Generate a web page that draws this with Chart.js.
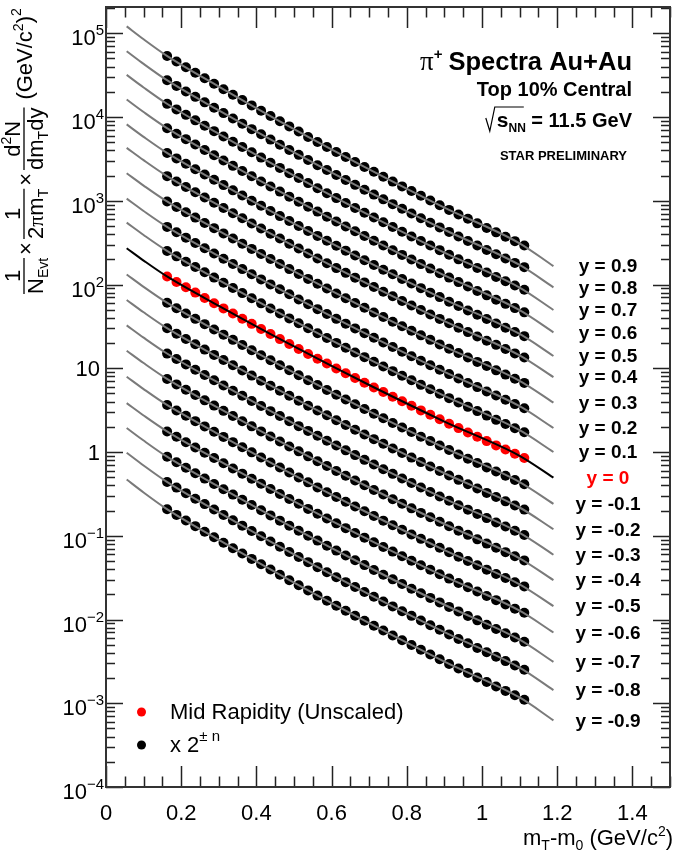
<!DOCTYPE html>
<html>
<head>
<meta charset="utf-8">
<script src="https://cdn.jsdelivr.net/npm/chart.js@4.4.0/dist/chart.umd.min.js"></script>
<style>
	html, body { margin: 0; padding: 0; background: #fff; }
	#wrap { width: 675px; height: 854px; }
</style>
</head>
<body>
<div id="wrap"><canvas id="spectraChart" width="675" height="854"></canvas></div>
<script>

// m_T - m_0 bin centres (GeV/c^2)
var mtBins = [0.1625, 0.1875, 0.2125, 0.2375, 0.2625, 0.2875, 0.3125, 0.3375, 0.3625, 0.3875,
	0.4125, 0.4375, 0.4625, 0.4875, 0.5125, 0.5375, 0.5625, 0.5875, 0.6125, 0.6375,
	0.6625, 0.6875, 0.7125, 0.7375, 0.7625, 0.7875, 0.8125, 0.8375, 0.8625, 0.8875,
	0.9125, 0.9375, 0.9625, 0.9875, 1.0125, 1.0375, 1.0625, 1.0875, 1.1125];

// unscaled yields for each rapidity slice
var yield_p09 = [104.7, 89.7, 76.9, 66.0, 56.7, 48.7, 41.9, 36.1, 31.1, 26.9, 23.2, 20.1, 17.4, 15.1, 13.1, 11.3, 9.85, 8.57, 7.46, 6.50, 5.67, 4.95, 4.33, 3.78, 3.31, 2.90, 2.55, 2.24, 1.97, 1.73, 1.52, 1.34, 1.19, 1.05, 0.926, 0.820, 0.726, 0.644, 0.571];
var yield_p08 = [107.2, 92.0, 79.0, 68.0, 58.5, 50.4, 43.5, 37.5, 32.4, 28.0, 24.3, 21.0, 18.2, 15.8, 13.8, 12.0, 10.4, 9.09, 7.93, 6.92, 6.05, 5.29, 4.63, 4.06, 3.56, 3.13, 2.75, 2.42, 2.13, 1.88, 1.66, 1.46, 1.29, 1.14, 1.01, 0.899, 0.798, 0.708, 0.630];
var yield_p07 = [112.2, 96.4, 82.9, 71.3, 61.5, 53.0, 45.7, 39.5, 34.2, 29.6, 25.6, 22.2, 19.3, 16.7, 14.6, 12.7, 11.0, 9.63, 8.41, 7.35, 6.42, 5.62, 4.93, 4.32, 3.79, 3.33, 2.93, 2.58, 2.28, 2.01, 1.77, 1.56, 1.38, 1.23, 1.09, 0.963, 0.855, 0.760, 0.676];
var yield_p06 = [114.8, 98.8, 85.1, 73.3, 63.2, 54.6, 47.2, 40.8, 35.4, 30.6, 26.6, 23.1, 20.1, 17.5, 15.2, 13.3, 11.6, 10.1, 8.82, 7.72, 6.76, 5.93, 5.20, 4.56, 4.01, 3.53, 3.11, 2.74, 2.42, 2.13, 1.89, 1.67, 1.48, 1.31, 1.16, 1.03, 0.918, 0.817, 0.727];
var yield_p05 = [116.4, 100.2, 86.4, 74.5, 64.3, 55.6, 48.1, 41.6, 36.1, 31.3, 27.2, 23.6, 20.5, 17.9, 15.6, 13.6, 11.9, 10.4, 9.06, 7.93, 6.95, 6.10, 5.35, 4.70, 4.14, 3.64, 3.21, 2.83, 2.50, 2.21, 1.95, 1.73, 1.53, 1.36, 1.21, 1.07, 0.953, 0.848, 0.756];
var yield_p04 = [123.0, 106.0, 91.5, 79.1, 68.4, 59.1, 51.2, 44.4, 38.6, 33.5, 29.1, 25.3, 22.1, 19.2, 16.8, 14.7, 12.8, 11.2, 9.82, 8.61, 7.55, 6.63, 5.83, 5.13, 4.52, 3.98, 3.51, 3.10, 2.74, 2.43, 2.15, 1.90, 1.69, 1.50, 1.33, 1.19, 1.06, 0.941, 0.840];
var yield_p03 = [122.5, 105.6, 91.1, 78.7, 68.0, 58.9, 51.0, 44.2, 38.4, 33.3, 29.0, 25.2, 22.0, 19.1, 16.7, 14.6, 12.8, 11.2, 9.78, 8.57, 7.52, 6.60, 5.80, 5.11, 4.50, 3.96, 3.50, 3.09, 2.73, 2.41, 2.14, 1.90, 1.68, 1.49, 1.33, 1.18, 1.05, 0.937, 0.836];
var yield_p02 = [121.9, 105.1, 90.7, 78.3, 67.7, 58.6, 50.8, 44.0, 38.2, 33.2, 28.8, 25.1, 21.9, 19.1, 16.6, 14.5, 12.7, 11.1, 9.73, 8.53, 7.48, 6.57, 5.78, 5.08, 4.48, 3.95, 3.48, 3.07, 2.72, 2.40, 2.13, 1.89, 1.67, 1.49, 1.32, 1.18, 1.05, 0.933, 0.832];
var yield_p01 = [125.9, 108.5, 93.7, 80.9, 70.0, 60.5, 52.4, 45.5, 39.5, 34.3, 29.8, 25.9, 22.6, 19.7, 17.2, 15.0, 13.1, 11.5, 10.05, 8.81, 7.73, 6.79, 5.97, 5.25, 4.62, 4.07, 3.60, 3.17, 2.81, 2.48, 2.20, 1.95, 1.73, 1.54, 1.36, 1.21, 1.08, 0.963, 0.859];
var yield_00  = [124.6, 107.4, 92.7, 80.1, 69.2, 59.9, 51.9, 45.0, 39.0, 33.9, 29.5, 25.7, 22.3, 19.5, 17.0, 14.8, 13.0, 11.4, 9.94, 8.72, 7.65, 6.72, 5.90, 5.20, 4.58, 4.03, 3.56, 3.14, 2.78, 2.46, 2.18, 1.93, 1.71, 1.52, 1.35, 1.20, 1.07, 0.953, 0.850];
var yield_m01 = [121.1, 104.4, 90.1, 77.8, 67.3, 58.2, 50.4, 43.7, 37.9, 32.9, 28.6, 24.9, 21.7, 18.9, 16.5, 14.4, 12.6, 11.0, 9.66, 8.47, 7.43, 6.53, 5.74, 5.05, 4.45, 3.92, 3.46, 3.05, 2.70, 2.39, 2.11, 1.87, 1.66, 1.48, 1.31, 1.17, 1.04, 0.926, 0.826];
var yield_m02 = [120.2, 103.6, 89.4, 77.3, 66.8, 57.8, 50.1, 43.4, 37.7, 32.7, 28.4, 24.7, 21.6, 18.8, 16.4, 14.3, 12.5, 11.0, 9.60, 8.41, 7.38, 6.48, 5.70, 5.01, 4.41, 3.89, 3.43, 3.03, 2.68, 2.37, 2.10, 1.86, 1.65, 1.47, 1.30, 1.16, 1.03, 0.920, 0.821];
var yield_m03 = [119.7, 103.2, 89.0, 76.9, 66.5, 57.5, 49.8, 43.2, 37.5, 32.6, 28.3, 24.6, 21.5, 18.7, 16.3, 14.3, 12.5, 10.9, 9.55, 8.37, 7.35, 6.45, 5.67, 4.99, 4.39, 3.87, 3.42, 3.02, 2.67, 2.36, 2.09, 1.85, 1.64, 1.46, 1.30, 1.15, 1.03, 0.916, 0.817];
var yield_m04 = [119.1, 102.7, 88.6, 76.6, 66.2, 57.3, 49.6, 43.0, 37.3, 32.4, 28.2, 24.5, 21.4, 18.6, 16.3, 14.2, 12.4, 10.9, 9.51, 8.34, 7.31, 6.42, 5.64, 4.97, 4.37, 3.86, 3.40, 3.00, 2.66, 2.35, 2.08, 1.84, 1.64, 1.45, 1.29, 1.15, 1.02, 0.912, 0.813];
var yield_m05 = [116.4, 100.4, 86.6, 74.8, 64.7, 56.0, 48.5, 42.0, 36.5, 31.7, 27.5, 24.0, 20.9, 18.2, 15.9, 13.9, 12.1, 10.6, 9.29, 8.15, 7.15, 6.28, 5.52, 4.85, 4.27, 3.77, 3.32, 2.94, 2.60, 2.30, 2.03, 1.80, 1.60, 1.42, 1.26, 1.12, 1.00, 0.891, 0.795];
var yield_m06 = [112.7, 97.2, 83.9, 72.4, 62.6, 54.2, 46.9, 40.7, 35.3, 30.7, 26.7, 23.2, 20.2, 17.6, 15.4, 13.4, 11.7, 10.3, 9.00, 7.89, 6.92, 6.08, 5.34, 4.70, 4.14, 3.65, 3.22, 2.84, 2.51, 2.22, 1.97, 1.75, 1.55, 1.38, 1.22, 1.09, 0.968, 0.863, 0.769];
var yield_m07 = [112.2, 96.4, 83.0, 71.5, 61.6, 53.2, 45.9, 39.7, 34.4, 29.8, 25.8, 22.4, 19.4, 16.9, 14.7, 12.8, 11.2, 9.75, 8.51, 7.44, 6.52, 5.71, 5.00, 4.39, 3.86, 3.39, 2.98, 2.63, 2.32, 2.05, 1.81, 1.60, 1.41, 1.25, 1.11, 0.986, 0.876, 0.779, 0.693];
var yield_m08 = [112.2, 96.2, 82.6, 71.0, 61.1, 52.6, 45.3, 39.1, 33.8, 29.2, 25.2, 21.9, 18.9, 16.4, 14.3, 12.4, 10.8, 9.40, 8.20, 7.15, 6.25, 5.46, 4.78, 4.19, 3.67, 3.22, 2.83, 2.49, 2.19, 1.93, 1.70, 1.50, 1.33, 1.17, 1.04, 0.920, 0.816, 0.724, 0.643];
var yield_m09 = [106.2, 90.9, 77.8, 66.7, 57.3, 49.2, 42.3, 36.4, 31.4, 27.1, 23.4, 20.2, 17.5, 15.1, 13.1, 11.4, 9.88, 8.58, 7.47, 6.50, 5.67, 4.95, 4.32, 3.78, 3.30, 2.89, 2.54, 2.23, 1.96, 1.72, 1.51, 1.33, 1.18, 1.04, 0.918, 0.812, 0.719, 0.637, 0.565];

// fit curves, sampled at fitMt (unscaled)
var fitMt = [0.055, 0.1, 0.16, 0.3, 0.5, 0.7, 0.9, 1.1, 1.19];
var fit_p09 = [235.9, 165.6, 106.5, 45.2, 14.0, 4.64, 1.62, 0.607, 0.324];
var fit_p08 = [238.6, 168.4, 109.0, 46.8, 14.8, 4.96, 1.76, 0.669, 0.361];
var fit_p07 = [248.9, 176.0, 114.1, 49.2, 15.6, 5.27, 1.88, 0.718, 0.388];
var fit_p06 = [252.7, 179.2, 116.8, 50.7, 16.3, 5.56, 2.01, 0.772, 0.420];
var fit_p05 = [255.2, 181.3, 118.4, 51.6, 16.7, 5.72, 2.08, 0.802, 0.438];
var fit_p04 = [267.6, 190.8, 125.1, 55.0, 18.0, 6.23, 2.28, 0.890, 0.489];
var fit_p03 = [266.4, 189.9, 124.5, 54.8, 17.9, 6.20, 2.27, 0.886, 0.486];
var fit_p02 = [265.2, 189.0, 123.9, 54.5, 17.8, 6.17, 2.26, 0.882, 0.484];
var fit_p01 = [273.8, 195.2, 128.0, 56.3, 18.4, 6.38, 2.34, 0.911, 0.500];
var fit_00  = [271.0, 193.2, 126.6, 55.7, 18.2, 6.31, 2.31, 0.902, 0.495];
var fit_m01 = [263.4, 187.7, 123.1, 54.1, 17.7, 6.13, 2.25, 0.876, 0.481];
var fit_m02 = [261.6, 186.4, 122.2, 53.8, 17.6, 6.09, 2.23, 0.870, 0.478];
var fit_m03 = [260.4, 185.6, 121.7, 53.5, 17.5, 6.06, 2.22, 0.866, 0.475];
var fit_m04 = [259.2, 184.7, 121.1, 53.3, 17.4, 6.03, 2.21, 0.862, 0.473];
var fit_m05 = [253.3, 180.5, 118.3, 52.1, 17.0, 5.90, 2.16, 0.842, 0.462];
var fit_m06 = [245.3, 174.8, 114.6, 50.4, 16.5, 5.71, 2.09, 0.816, 0.448];
var fit_m07 = [248.0, 175.5, 114.1, 49.4, 15.8, 5.35, 1.92, 0.736, 0.399];
var fit_m08 = [250.8, 176.7, 114.1, 48.8, 15.3, 5.12, 1.81, 0.683, 0.367];
var fit_m09 = [240.1, 168.3, 108.0, 45.6, 14.1, 4.63, 1.61, 0.600, 0.320];

var rapidityLabels = ['y = 0.9', 'y = 0.8', 'y = 0.7', 'y = 0.6', 'y = 0.5', 'y = 0.4', 'y = 0.3', 'y = 0.2', 'y = 0.1', 'y = 0',
	'y = -0.1', 'y = -0.2', 'y = -0.3', 'y = -0.4', 'y = -0.5', 'y = -0.6', 'y = -0.7', 'y = -0.8', 'y = -0.9'];
// each slice is drawn x 2^n
var scalePower = [9, 8, 7, 6, 5, 4, 3, 2, 1, 0, -1, -2, -3, -4, -5, -6, -7, -8, -9];
var spectra = [yield_p09, yield_p08, yield_p07, yield_p06, yield_p05, yield_p04, yield_p03, yield_p02, yield_p01, yield_00,
	yield_m01, yield_m02, yield_m03, yield_m04, yield_m05, yield_m06, yield_m07, yield_m08, yield_m09];
var fits = [fit_p09, fit_p08, fit_p07, fit_p06, fit_p05, fit_p04, fit_p03, fit_p02, fit_p01, fit_00,
	fit_m01, fit_m02, fit_m03, fit_m04, fit_m05, fit_m06, fit_m07, fit_m08, fit_m09];

var xTicks = [0, 0.2, 0.4, 0.6, 0.8, 1, 1.2, 1.4];
var xTickLabels = ['0', '0.2', '0.4', '0.6', '0.8', '1', '1.2', '1.4'];
var yTicks = [1e-4, 1e-3, 1e-2, 1e-1, 1, 10, 1e2, 1e3, 1e4, 1e5];
var yTickLabels = [['10', '\u22124'], ['10', '\u22123'], ['10', '\u22122'], ['10', '\u22121'], ['1', ''], ['10', ''],
	['10', '2'], ['10', '3'], ['10', '4'], ['10', '5']];

var SANS = '"Liberation Sans", Arial, Helvetica, sans-serif';
var SERIF = '"Liberation Serif", "Times New Roman", serif';

function font(p){
	return (p.bold ? 'bold ' : '') + p.size + 'px ' + (p.serif ? SERIF : SANS);
}

// draw a row of text pieces (sub/superscripts via dy)
function drawRich(ctx, parts, x, y, align){
	var w = richWidth(ctx, parts);
	var cx = x;
	if (align === 'right') cx = x - w;
	if (align === 'center') cx = x - w / 2;
	parts.forEach(function(p){
		ctx.font = font(p);
		ctx.fillText(p.t, cx, y + (p.dy || 0));
		cx += ctx.measureText(p.t).width + (p.gap || 0);
	});
	return w;
}

function richWidth(ctx, parts){
	var w = 0;
	parts.forEach(function(p){ ctx.font = font(p); w += ctx.measureText(p.t).width + (p.gap || 0); });
	return w;
}

function drawYTitle(ctx){
	ctx.save();
	ctx.translate(24, 298);
	ctx.rotate(-Math.PI / 2);
	ctx.fillStyle = '#000';
	ctx.strokeStyle = '#000';
	ctx.lineWidth = 1.3;
	ctx.textBaseline = 'alphabetic';

	// 1 / N_Evt
	var den1 = [{t: 'N', size: 22}, {t: 'Evt', size: 14, dy: 5}];
	var w1 = richWidth(ctx, den1);
	var u = 4;
	drawRich(ctx, [{t: '1', size: 22}], u + w1 / 2, -4, 'center');
	ctx.beginPath(); ctx.moveTo(u, 0); ctx.lineTo(u + w1, 0); ctx.stroke();
	drawRich(ctx, den1, u, 19, 'left');
	u += w1 + 3;
	ctx.textBaseline = 'middle';
	drawRich(ctx, [{t: '\u00d7', size: 22}], u, 3, 'left');
	ctx.textBaseline = 'alphabetic';
	ctx.font = font({size: 22});
	u += ctx.measureText('\u00d7').width + 3;

	// 1 / 2 pi m_T
	var den2 = [{t: '2', size: 22}, {t: '\u03c0', size: 22, serif: true}, {t: 'm', size: 22}, {t: 'T', size: 14, dy: 5}];
	var w2 = richWidth(ctx, den2);
	drawRich(ctx, [{t: '1', size: 22}], u + w2 / 2, -4, 'center');
	ctx.beginPath(); ctx.moveTo(u, 0); ctx.lineTo(u + w2, 0); ctx.stroke();
	drawRich(ctx, den2, u, 19, 'left');
	u += w2 + 3;
	ctx.textBaseline = 'middle';
	drawRich(ctx, [{t: '\u00d7', size: 22}], u, 3, 'left');
	ctx.textBaseline = 'alphabetic';
	ctx.font = font({size: 22});
	u += ctx.measureText('\u00d7').width + 3;

	// d2N / dm_T dy
	var num3 = [{t: 'd', size: 22}, {t: '2', size: 14, dy: -9}, {t: 'N', size: 22}];
	var den3 = [{t: 'dm', size: 22}, {t: 'T', size: 14, dy: 5}, {t: 'dy', size: 22}];
	var w3 = richWidth(ctx, den3);
	drawRich(ctx, num3, u + w3 / 2, -4, 'center');
	ctx.beginPath(); ctx.moveTo(u, 0); ctx.lineTo(u + w3, 0); ctx.stroke();
	drawRich(ctx, den3, u, 19, 'left');
	u += w3 + 8;

	// (GeV/c2)2
	drawRich(ctx, [{t: '(GeV/c', size: 22}, {t: '2', size: 14, dy: -9}, {t: ')', size: 22}, {t: '2', size: 14, dy: -11}], u, 8, 'left');
	ctx.restore();
}

var framePlugin = {
	id: 'rootFrame',
	afterDraw: function(chart){
		var ctx = chart.ctx, a = chart.chartArea;
		var xs = chart.scales.x, ys = chart.scales.y;
		var i, k, v, px;
		ctx.save();

		// ticks on all four sides, pointing inward
		ctx.strokeStyle = '#222';
		ctx.lineWidth = 1.5;
		ctx.beginPath();
		for (i = 0; i <= 30; i++) {
			px = Math.round(xs.getPixelForValue(i * 0.05)) + 0.5;
			var len = (i % 4 === 0) ? 21 : 10.5;
			ctx.moveTo(px, a.bottom); ctx.lineTo(px, a.bottom - len);
			ctx.moveTo(px, a.top); ctx.lineTo(px, a.top + len);
		}
		for (k = -4; k <= 5; k++) {
			for (i = 1; i <= 9; i++) {
				v = i * Math.pow(10, k);
				if (v > ys.max) continue;
				px = Math.round(ys.getPixelForValue(v)) + 0.5;
				var ln = (i === 1) ? 17 : 9;
				ctx.moveTo(a.left, px); ctx.lineTo(a.left + ln, px);
				ctx.moveTo(a.right, px); ctx.lineTo(a.right - ln, px);
			}
		}
		ctx.stroke();

		ctx.lineWidth = 2;
		ctx.strokeStyle = '#333';
		ctx.strokeRect(a.left, a.top, a.right - a.left, a.bottom - a.top);

		// tick labels
		ctx.fillStyle = '#000';
		ctx.textBaseline = 'alphabetic';
		xTicks.forEach(function(t, j){
			drawRich(ctx, [{t: xTickLabels[j], size: 22}], xs.getPixelForValue(t), 820, 'center');
		});
		yTicks.forEach(function(t, j){
			var py = ys.getPixelForValue(t);
			var lab = yTickLabels[j];
			if (lab[1] === '') {
				drawRich(ctx, [{t: lab[0], size: 22}], 100, py + 8, 'right');
			} else {
				drawRich(ctx, [{t: lab[0], size: 22}, {t: lab[1], size: 15, dy: -10}], 104, py + 12, 'right');
			}
		});

		// axis titles
		drawRich(ctx, [{t: 'm', size: 22}, {t: 'T', size: 14, dy: 5}, {t: '-m', size: 22}, {t: '0', size: 14, dy: 5},
			{t: ' (GeV/c', size: 22}, {t: '2', size: 14, dy: -9}, {t: ')', size: 22}], 673, 845, 'right');
		drawYTitle(ctx);

		// header text
		var hw = drawRich(ctx, [{t: 'Spectra Au+Au', size: 25.5, bold: true}], 632, 70, 'right');
		drawRich(ctx, [{t: '\u03c0', size: 27, serif: true}, {t: '+', size: 15, dy: -11, bold: true}], 632 - hw - 6, 70, 'right');
		drawRich(ctx, [{t: 'Top 10% Central', size: 20, bold: true}], 632, 96, 'right');
		var ew = drawRich(ctx, [{t: ' = 11.5 GeV', size: 20, bold: true}], 632, 127, 'right');
		var sw = drawRich(ctx, [{t: 's', size: 21, bold: true}, {t: 'NN', size: 12, bold: true, dy: 5}], 632 - ew, 127, 'right');
		var rx = 632 - ew - sw - 2;
		ctx.strokeStyle = '#000';
		ctx.lineWidth = 1.2;
		ctx.beginPath();
		ctx.moveTo(rx - 9, 118); ctx.lineTo(rx - 5, 131); ctx.lineTo(rx, 107); ctx.lineTo(632 - ew - 2, 107);
		ctx.stroke();
		drawRich(ctx, [{t: 'STAR PRELIMINARY', size: 13, bold: true}], 627, 160, 'right');

		// rapidity labels at the end of each fit
		ctx.textBaseline = 'middle';
		rapidityLabels.forEach(function(lab, j){
			var f = fits[j];
			var py = ys.getPixelForValue(f[f.length - 1] * Math.pow(2, scalePower[j]));
			ctx.fillStyle = scalePower[j] === 0 ? '#ff0000' : '#000';
			drawRich(ctx, [{t: lab, size: 19, bold: true}], 608, py + 1, 'center');
		});

		// legend
		ctx.textBaseline = 'alphabetic';
		ctx.fillStyle = '#ff0000';
		ctx.beginPath(); ctx.arc(141.5, 712, 4.5, 0, Math.PI * 2); ctx.fill();
		ctx.fillStyle = '#000';
		ctx.beginPath(); ctx.arc(141.5, 745, 4.5, 0, Math.PI * 2); ctx.fill();
		drawRich(ctx, [{t: 'Mid Rapidity (Unscaled)', size: 22}], 170, 719, 'left');
		drawRich(ctx, [{t: 'x 2', size: 22}, {t: '\u00b1 n', size: 15, dy: -11}], 170, 752, 'left');

		ctx.restore();
	}
};

var datasets = [];
// fit lines on top
fits.forEach(function(f, j){
	var s = Math.pow(2, scalePower[j]);
	datasets.push({
		type: 'line',
		data: fitMt.map(function(x, i){ return {x: x, y: f[i] * s}; }),
		borderColor: scalePower[j] === 0 ? '#000' : '#7a7a7a',
		borderWidth: 2,
		pointRadius: 0,
		cubicInterpolationMode: 'monotone',
		fill: false,
		order: 0
	});
});
spectra.forEach(function(vals, j){
	var s = Math.pow(2, scalePower[j]);
	datasets.push({
		type: 'scatter',
		data: mtBins.map(function(x, i){ return {x: x, y: vals[i] * s}; }),
		backgroundColor: scalePower[j] === 0 ? '#ff0000' : '#000',
		borderWidth: 0,
		pointRadius: 5,
		order: scalePower[j] === 0 ? 1 : 2
	});
});

var ctx = document.getElementById('spectraChart').getContext('2d');
var spectraChart = new Chart(ctx, {
	type: 'scatter',
	data: { datasets: datasets },
	options: {
		responsive: false,
		animation: false,
		devicePixelRatio: 1,
		layout: { padding: { left: 106, top: 7, right: 0, bottom: 67 } },
		plugins: { legend: { display: false }, tooltip: { enabled: false } },
		scales: {
			x: { type: 'linear', min: 0, max: 1.5, display: false },
			y: { type: 'logarithmic', min: 1e-4, max: 2.06e5, display: false }
		}
	},
	plugins: [framePlugin]
});
</script>
</body>
</html>
